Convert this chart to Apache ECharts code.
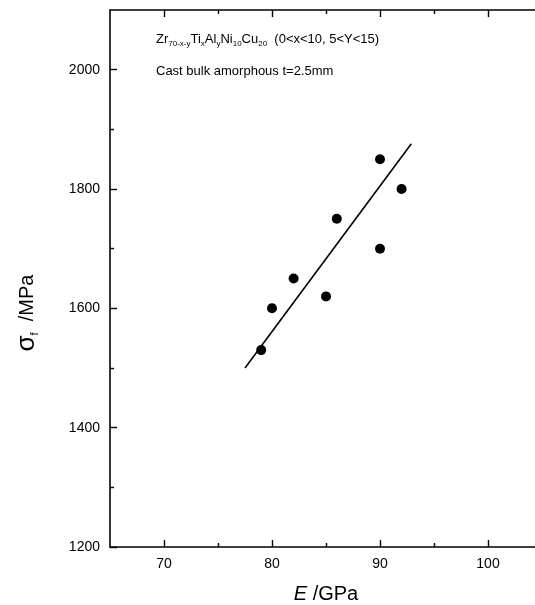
<!DOCTYPE html>
<html><head><meta charset="utf-8">
<script src="https://cdn.jsdelivr.net/npm/echarts@6/dist/echarts.min.js"></script>
<style>html,body{margin:0;padding:0;background:#fff}#c{width:535px;height:605px}</style>
</head><body><div id="c"></div>
<script>
const modulus = [79, 80, 82, 85, 86, 90, 90, 92];
const strength = [1530, 1600, 1650, 1620, 1750, 1700, 1850, 1800];
const fitX = [77.5, 92.9];
const fitY = [1500, 1876];
const xMajorTicks = [70, 80, 90, 100];
const xMinorTicks = [75, 85, 95];
const yMajorTicks = [1200, 1400, 1600, 1800, 2000];
const yMinorTicks = [1300, 1500, 1700, 1900];

const FONT = '"Liberation Sans", Arial, sans-serif';
const chart = echarts.init(document.getElementById('c'), null, {renderer: 'canvas'});

function xAx(pos, ticks, len, showLine, showLabel, name) {
  const a = {
    type: 'value', position: pos, min: 65, max: 105,
    splitLine: {show: false},
    axisLine: {show: showLine, onZero: false, lineStyle: {color: '#000', width: 1.6}},
    axisTick: {show: true, inside: true, length: len, customValues: ticks, lineStyle: {color: '#000', width: 1.4}},
    axisLabel: {show: showLabel, customValues: ticks, color: '#000', fontSize: 14, fontFamily: FONT, margin: 10,
                formatter: v => String(v)}
  };
  if (name) {
    a.name = name; a.nameLocation = 'middle'; a.nameGap = 37;
    a.nameTextStyle = {color: '#000', fontSize: 20, fontFamily: FONT,
      rich: {i: {fontStyle: 'italic', fontSize: 20, fontFamily: FONT, color: '#000'},
             n: {fontSize: 20, fontFamily: FONT, color: '#000'}}};
  }
  return a;
}
function yAx(ticks, len, showLine, showLabel) {
  return {
    type: 'value', position: 'left', min: 1200, max: 2100,
    splitLine: {show: false},
    axisLine: {show: showLine, onZero: false, lineStyle: {color: '#000', width: 1.6}},
    axisTick: {show: true, inside: true, length: len, customValues: ticks, lineStyle: {color: '#000', width: 1.4}},
    axisLabel: {show: showLabel, customValues: ticks, color: '#000', fontSize: 14, fontFamily: FONT, margin: 10,
                formatter: v => String(v)}
  };
}

chart.setOption({
  backgroundColor: '#fff',
  animation: false,
  grid: {left: 110, top: 10, bottom: 58, right: -7, containLabel: false, outerBoundsMode: 'none'},
  xAxis: [
    xAx('bottom', xMajorTicks, 7, true, true, '{i|E}{n| /GPa}'),
    xAx('bottom', xMinorTicks, 4, false, false),
    xAx('top', xMajorTicks, 7, true, false),
    xAx('top', xMinorTicks, 4, false, false)
  ],
  yAxis: [
    yAx(yMajorTicks, 7, true, true),
    yAx(yMinorTicks, 4, false, false)
  ],
  graphic: [
    {type: 'text', x: 27, y: 313, rotation: Math.PI / 2, style: {
      text: '{g|σ}{s|f}{n|  /MPa}', align: 'center', verticalAlign: 'middle',
      rich: {g: {fontSize: 26, fontFamily: FONT, fill: '#000', lineHeight: 26},
             n: {fontSize: 20, fontFamily: FONT, fill: '#000', lineHeight: 26},
             s: {fontSize: 11, fontFamily: FONT, fill: '#000', lineHeight: 12, verticalAlign: 'bottom'}}
    }},
    {type: 'text', left: 156, top: 33, style: {
      text: '{n|Zr}{s|70-x-y}{n|Ti}{s|x}{n|Al}{s|y}{n|Ni}{s|10}{n|Cu}{s|20}{n|  (0<x<10, 5<Y<15)}',
      rich: {n: {fontSize: 13, fontFamily: FONT, fill: '#000', lineHeight: 16},
             s: {fontSize: 8, fontFamily: FONT, fill: '#000', lineHeight: 9, verticalAlign: 'bottom'}}
    }},
    {type: 'text', left: 156, top: 65, style: {
      text: 'Cast bulk amorphous t=2.5mm', fontSize: 13, fontFamily: FONT, fill: '#000'
    }}
  ],
  series: [
    {type: 'line', xAxisIndex: 0, yAxisIndex: 0, data: fitX.map((x, i) => [x, fitY[i]]),
     showSymbol: false, symbol: 'none', lineStyle: {color: '#000', width: 1.6}, silent: true},
    {type: 'scatter', xAxisIndex: 0, yAxisIndex: 0, data: modulus.map((x, i) => [x, strength[i]]),
     symbol: 'circle', symbolSize: 10, itemStyle: {color: '#000', opacity: 1}}
  ]
});
</script></body></html>
